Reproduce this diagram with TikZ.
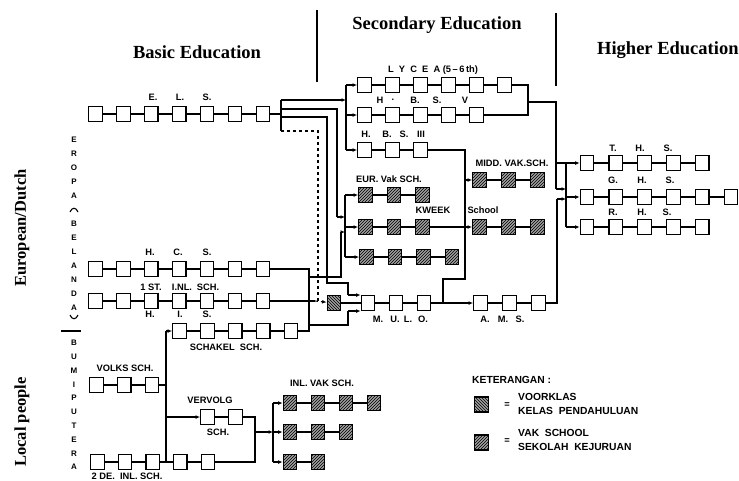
\documentclass[tikz,border=0pt]{standalone}
\usepackage{fontspec}
\setmainfont{Liberation Serif}
\setsansfont{Liberation Sans}
\usetikzlibrary{arrows.meta,patterns,positioning}

\tikzset{
  box/.style={draw, line width=1.2pt, fill=white, minimum width=13.5pt, minimum height=15pt, inner sep=0pt},
  vak/.style={box, fill=gray!75, postaction={pattern=north east lines}},
  voor/.style={box, fill=gray!75, postaction={pattern=north west lines}},
  lbl/.style={font=\sffamily\bfseries\fontsize{9.3}{10}\selectfont, inner sep=0pt},
  leg/.style={font=\sffamily\bfseries\fontsize{10.3}{14.5}\selectfont, inner sep=0pt, anchor=west, align=left},
  vlet/.style={font=\sffamily\bfseries\fontsize{8}{8}\selectfont, inner sep=0pt},
  head/.style={font=\bfseries\fontsize{18.5}{20}\selectfont, inner sep=0pt},
  side/.style={font=\bfseries\fontsize{16.5}{18}\selectfont, rotate=90, inner sep=0pt},
  conn/.style={line width=1.1pt},
  arr/.style={conn, -{Latex[length=4.5pt,width=3.8pt]}},
}

% a row of boxes: name, style, first x, pitch, y, count
\newcommand{\boxrow}[6]{%
  \foreach \k in {1,...,#6}
    \node[#2] (#1\k) at ({#3+#4*(\k-1)},#5) {};
  \foreach \k in {2,...,#6}{%
    \pgfmathtruncatemacro{\prevk}{\k-1}
    \draw[conn] (#1\prevk) -- (#1\k);}%
}

\begin{document}
\begin{tikzpicture}[x=1pt,y=-1pt]
  \useasboundingbox (0,0) rectangle (739,480);

  % Headings
  \node[head] (basic) at (197,52) {Basic Education};
  \node[head] (second) at (437,25) {Secondary Education};
  \node[head, anchor=west] (higher) at (597,50) {Higher Education};
  \draw[conn] (317,10) -- (317,82);
  \draw[conn] (556,13) -- (556,86);
  \node[side] (dutch) at (22,228) {European/Dutch};
  \node[side] (local) at (22,422) {Local people};

  % Vertical group names
  \foreach \t [count=\n from 0] in {E,R,O,P,A,,B,E,L,A,N,D,A}
    \node[vlet] at (74,{140+14*\n}) {\t};
  \draw[conn] (70,212) .. controls (72,207) and (76,207) .. (78,212);
  \draw[conn] (70,315) .. controls (72,320) and (76,320) .. (78,315);
  \draw[conn] (61,331) -- (81,331);
  \foreach \t [count=\n from 0] in {B,U,M,I,P,U,T,E,R,A}
    \node[vlet] at (74,{343+13.8*\n}) {\t};

  % Basic education rows
  \boxrow{els}{box}{95.5}{27.9}{114}{7}
  \boxrow{hcs}{box}{95.5}{27.9}{269}{7}
  \boxrow{his}{box}{95.5}{27.9}{301}{7}
  \boxrow{sch}{box}{179.5}{27.9}{331}{5}
  \boxrow{vol}{box}{96.5}{27.8}{385}{3}
  \boxrow{inl}{box}{97.5}{27.6}{462}{5}
  \boxrow{vvg}{box}{207.5}{28}{417}{2}
  \boxrow{ivak}{vak}{290}{28}{403}{4}
  \boxrow{ivakb}{vak}{290}{28}{432}{3}
  \boxrow{ivakc}{vak}{290}{28}{462}{2}

  % Secondary education rows
  \boxrow{lyc}{box}{364.5}{28}{85}{6}
  \boxrow{hbsv}{box}{364.5}{28}{115}{5}
  \boxrow{hbsiii}{box}{364.5}{28}{150}{3}
  \boxrow{evak}{vak}{365.5}{28.5}{195}{3}
  \boxrow{kwk}{vak}{365.5}{28.5}{227}{3}
  \boxrow{evakc}{vak}{366.5}{28.5}{257}{4}
  \boxrow{mulo}{box}{368}{28}{303}{3}
  \boxrow{midd}{vak}{479.5}{29}{180}{3}
  \boxrow{schl}{vak}{479.5}{29}{227}{3}
  \boxrow{ams}{box}{480.5}{29}{303}{3}
  \node[voor] (voor) at (334,303) {};

  % Higher education rows
  \boxrow{ths}{box}{587}{28.8}{163}{5}
  \boxrow{ghs}{box}{587}{28.8}{197}{6}
  \boxrow{rhs}{box}{587}{28.8}{227}{5}

  % Row labels
  \node[lbl] at (153,97) {E.};
  \node[lbl] at (180,97) {L.};
  \node[lbl] at (207,97) {S.};
  \node[lbl] at (150,252) {H.};
  \node[lbl] at (178,252) {C.};
  \node[lbl] at (207,252) {S.};
  \node[lbl] at (151,287) {1 ST.};
  \node[lbl] at (182,287) {I.NL.};
  \node[lbl] at (208,287) {SCH.};
  \node[lbl] at (150,314) {H.};
  \node[lbl] at (180,314) {I.};
  \node[lbl] at (207,314) {S.};
  \node[lbl] at (226,347) {SCHAKEL\ \ SCH.};
  \node[lbl] at (125,368) {VOLKS SCH.};
  \node[lbl] at (210,400) {VERVOLG};
  \node[lbl] at (218,432) {SCH.};
  \node[lbl] at (127,476) {2 DE.\ \ INL.\ SCH.};
  \node[lbl] at (322,383) {INL. VAK SCH.};
  \node[lbl] at (433,70) {L\ \ Y\ \ C\ \ E\ \ A\ (5\,--\,6\,th)};
  \node[lbl] at (380,100) {H};
  \node[lbl] at (393,100) {.};
  \node[lbl] at (415,100) {B.};
  \node[lbl] at (437,100) {S.};
  \node[lbl] at (465,100) {V};
  \node[lbl] at (366,134) {H.};
  \node[lbl] at (387,134) {B.};
  \node[lbl] at (404,134) {S.};
  \node[lbl] at (421,134) {III};
  \node[lbl] at (389,179) {EUR. Vak SCH.};
  \node[lbl] at (433,210) {KWEEK};
  \node[lbl] at (512,163) {MIDD. VAK.SCH.};
  \node[lbl] at (483,210) {School};
  \node[lbl] at (378,319) {M.};
  \node[lbl] at (395,319) {U.};
  \node[lbl] at (408,319) {L.};
  \node[lbl] at (423,319) {O.};
  \node[lbl] at (485,319) {A.};
  \node[lbl] at (503,319) {M.};
  \node[lbl] at (520,319) {S.};
  \node[lbl] at (613,148) {T.};
  \node[lbl] at (640,148) {H.};
  \node[lbl] at (668,148) {S.};
  \node[lbl] at (613,180) {G.};
  \node[lbl] at (642,180) {H.};
  \node[lbl] at (670,180) {S.};
  \node[lbl] at (613,212) {R.};
  \node[lbl] at (642,212) {H.};
  \node[lbl] at (667,212) {S.};

  % Connect the nodes
  \coordinate (eT) at (281,100);
  \coordinate (eB) at (281,131);
  \draw[conn] (els7) -- (els7 -| eT);
  \draw[conn] (eT) -- (eB);
  \draw[arr] (eT) -- (346,100);
  \draw[conn] (346,85) -- (346,150);
  \draw[arr] (346,85) -- (lyc1);
  \draw[arr] (346,115) -- (hbsv1);
  \draw[arr] (346,150) -- (hbsiii1);
  \draw[conn] (281,109) -| (337,217);
  \draw[arr] (337,217) -- (345,217);
  \draw[conn] (345,195) -- (345,257);
  \draw[arr] (345,195) -- (evak1);
  \draw[arr] (345,227) -- (kwk1);
  \draw[arr] (345,257) -- (evakc1);
  \draw[conn] (281,117) -| (327,283) -- (348,283) -- (348,295);
  \draw[arr] (348,295) -- (mulo1.west |- 0,295);
  \coordinate (lj) at (309,269);
  \draw[conn] (hcs7) -- (lj) -- (309,331) -- (sch5);
  \draw[conn] (309,325) -- (348,325) -- (348,311);
  \draw[arr] (348,311) -- (mulo1.west |- 0,311);
  \draw[conn] (309,277) -- (341,277) -- (341,232);
  \draw[arr] (341,232) -- (345,232);
  \draw[conn] (his7) -- (315,301);
  \draw[conn, dashed] (eB) -| (318,301);
  \draw[arr, dashed] (315,301) -- (voor);
  \draw[conn] (voor) -- (mulo1);
  \draw[arr] (mulo3) -- (ams1);
  \draw[conn] (mulo3.east) -- (443,303) -- (443,279) -- (465,279) -- (465,150) -- (hbsiii3);
  \draw[arr] (465,180) -- (midd1);
  \draw[arr] (465,227) -- (schl1);
  \draw[conn] (kwk3) -- (465,227);
  \draw[conn] (lyc6) -- (528,85) -- (528,115) -- (hbsv5);
  \draw[conn] (528,102) -- (556,102) -- (556,189);
  \draw[arr] (556,189) -- (566,189);
  \draw[conn] (ams3) -- (557,303) -- (557,199);
  \draw[arr] (557,199) -- (566,199);
  \draw[conn] (566,163) -- (566,227);
  \draw[arr] (556,163) -- (ths1);
  \draw[arr] (566,197) -- (ghs1);
  \draw[arr] (566,227) -- (rhs1);
  % local people
  \coordinate (vj) at (166,462);
  \draw[conn] (vol3) -- (166,385);
  \draw[conn] (vj) -- (166,331);
  \draw[arr] (166,331) -- (sch1);
  \draw[arr] (166,417) -- (vvg1);
  \draw[conn] (vvg2) -- (255,417) -- (255,462) -- (inl5);
  \draw[arr] (255,432) -- (273,432);
  \draw[conn] (273,403) -- (273,462);
  \draw[arr] (273,403) -- (ivak1);
  \draw[arr] (273,432) -- (ivakb1);
  \draw[arr] (273,462) -- (ivakc1);

  % Legend
  \node[leg] (ket) at (472,380) {KETERANGAN :};
  \node[voor] (kvoor) at (481.5,404.5) {};
  \node[vak] (kvak) at (481.5,442.5) {};
  \node[lbl] at (507,405) {=};
  \node[lbl] at (507,441) {=};
  \node[leg] at (518,404) {VOORKLAS\\KELAS\ \ PENDAHULUAN};
  \node[leg] at (518,440) {VAK\ \ SCHOOL\\SEKOLAH\ \ KEJURUAN};
\end{tikzpicture}
\end{document}
